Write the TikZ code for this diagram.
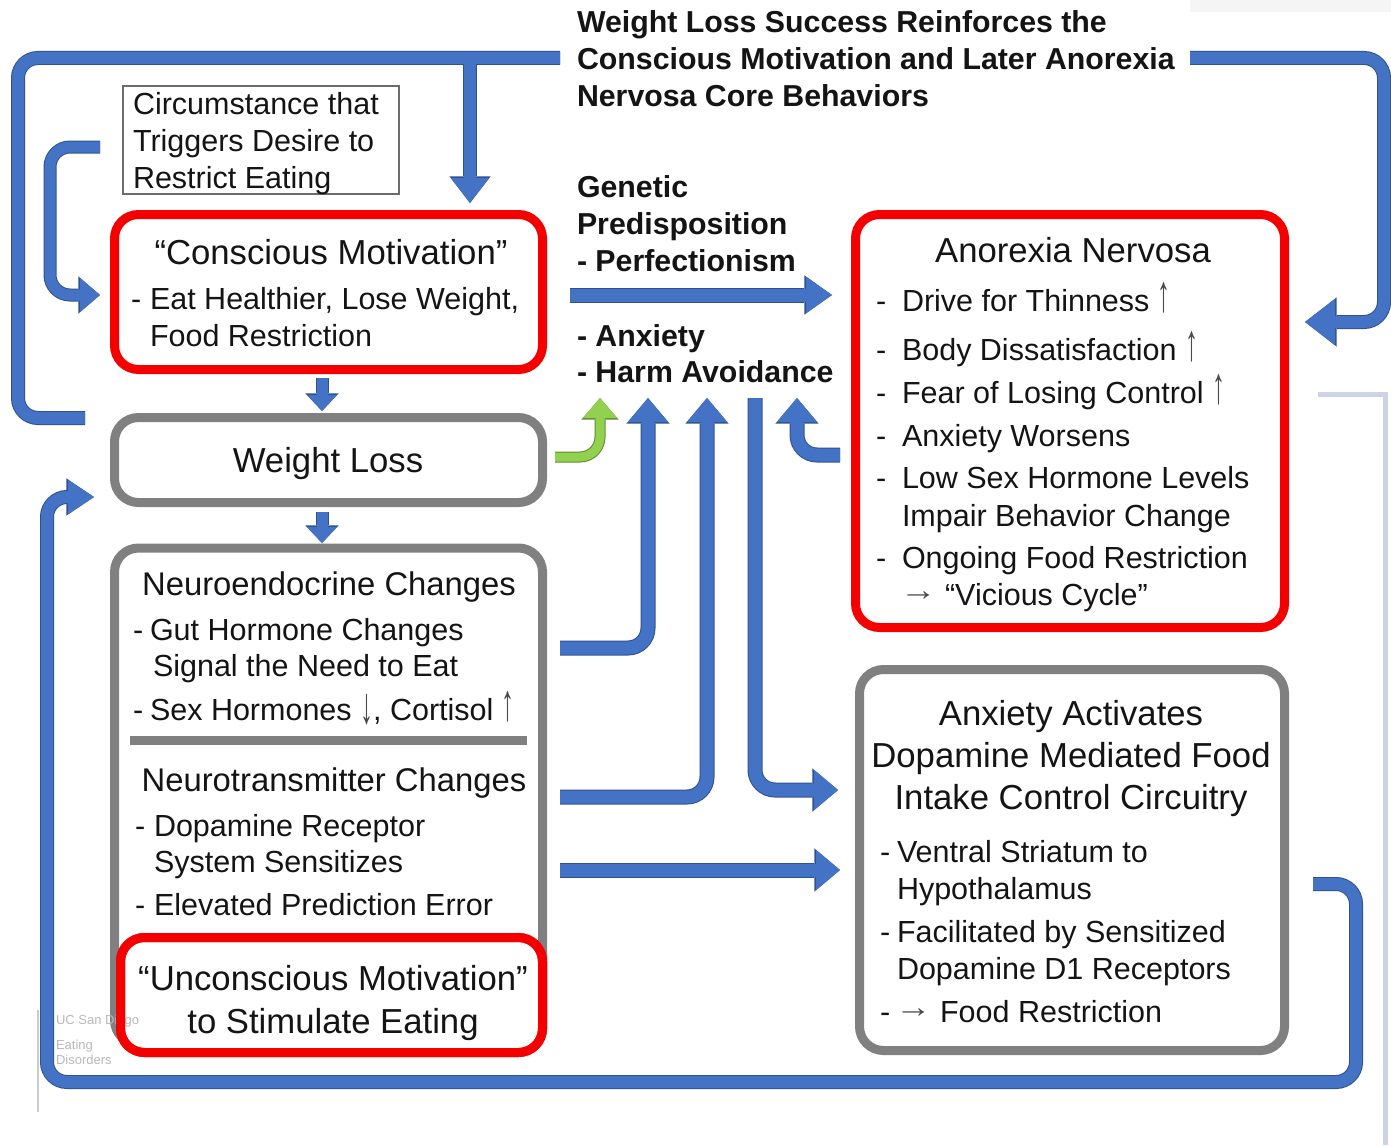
\documentclass[tikz,border=0pt]{standalone}
\usepackage{fontspec}
\usepackage{graphicx}
\setmainfont{Liberation Sans}
\usetikzlibrary{arrows.meta}
\definecolor{bFill}{HTML}{4472C4}
\definecolor{bOut}{HTML}{2F528F}
\definecolor{gFill}{HTML}{92D050}
\definecolor{gOut}{HTML}{5E8C2E}
\definecolor{rBox}{HTML}{F50000}
\definecolor{gBox}{HTML}{808080}
\definecolor{txt}{HTML}{141414}
\definecolor{arrC}{HTML}{4A4A4A}
\definecolor{frameC}{HTML}{CDD3E4}
\newcommand\fBody{\fontsize{15.25}{18.5}\selectfont}
\newcommand\fHead{\fontsize{17.35}{21}\selectfont}
\newcommand\fHeadS{\fontsize{16.4}{21}\selectfont}
\newcommand\fBold{\fontsize{15.15}{18.5}\selectfont\bfseries}
\newcommand\fLogo{\fontsize{6.5}{8}\selectfont}
\newcommand\uA{{\color{arrC}\scalebox{0.85}[1.7]{↑}}}
\newcommand\dA{{\color{arrC}\raisebox{-0.12em}{\scalebox{0.85}[1.7]{↓}}}}
\newcommand\rA{{\color{arrC}\raisebox{0.14em}{\scalebox{1.2}[1]{→}}}}
% #1 inner colour, #2 outer colour, #3 shaft, #4 shaft outer, #5 head w, #6 head w outer, #7 head l, #8 head l outer, #9 path
\newcommand\blk[9]{%
  \draw[draw=#2,line width=#4,rounded corners=10pt,-{Triangle[width=#6,length=#8,line width=0pt]}] #9;%
  \draw[draw=#1,line width=#3,rounded corners=10pt,-{Triangle[width=#5,length=#7,line width=0pt]}] #9;}
\begin{document}
\begin{tikzpicture}[x=0.5pt,y=-0.5pt,
  every node/.style={inner sep=0pt,outer sep=0pt,text=txt},
  redbox/.style 2 args={draw=rBox,line width=4.5pt,rounded corners=12pt,minimum width=#1,minimum height=#2},
  graybox/.style 2 args={draw=gBox,line width=4.5pt,rounded corners=12pt,minimum width=#1,minimum height=#2},
  lw/.style={anchor=base west},
  lc/.style={anchor=base}]
\useasboundingbox (0,0) rectangle (1391,1145);
\fill[white] (0,0) rectangle (1391,1145);
\fill[gray!8] (1190,0) rectangle (1391,12);
\draw[frameC,line width=2.5pt] (1318,394) -- (1385,394) -- (1385,1145);
\draw[gray!40,line width=0.6pt] (38,1010) -- (38,1112);

% ---------- boxes ----------
\node[draw=gray!85!black,line width=1.1pt,minimum width=138pt,minimum height=54pt] (circ) at (261,140) {};
\node[redbox={214pt}{77.5pt}] (cm) at (328.5,292) {};
\node[graybox={214pt}{42.5pt}] (wl) at (328.5,460) {};
\node[graybox={214pt}{248pt}] (big) at (328.5,796) {};
\coordinate (s0) at (130,740); \coordinate (s1) at (527,740);
\draw[gBox,line width=4.5pt] (s0) -- (s1);
\node[redbox={211pt}{57.5pt},fill=white] (uc) at (331.5,995) {};
\node[redbox={214.5pt}{206.5pt}] (an) at (1070,421) {};
\node[graybox={212.5pt}{190.5pt}] (ax) at (1072,860) {};

% logo
\node[lw,font=\fLogo,text=gray!55] (lg1) at (56,1024) {UC San Diego};
\node[lw,font=\fLogo,text=gray!55] (lg2) at (56,1049) {Eating};
\node[lw,font=\fLogo,text=gray!55] (lg3) at (56,1064) {Disorders};
\node[redbox={211pt}{57.5pt}] (ucb) at (331.5,995) {};

% ---------- texts ----------
\node[lw,font=\fBold] (t1) at (577,33) {Weight Loss Success Reinforces the};
\node[lw,font=\fBold] (t2) at (577,70) {Conscious Motivation and Later Anorexia};
\node[lw,font=\fBold] (t3) at (577,107) {Nervosa Core Behaviors};
\node[lw,font=\fBold] (g1t) at (577,197) {Genetic};
\node[lw,font=\fBold] (g2t) at (577,234) {Predisposition};
\node[lw,font=\fBold] (g3t) at (577,271) {- Perfectionism};
\node[lw,font=\fBold] (g4t) at (577,346) {- Anxiety};
\node[lw,font=\fBold] (g5t) at (577,382) {- Harm Avoidance};

\node[lw,font=\fBody] (c1) at (133,114) {Circumstance that};
\node[lw,font=\fBody] (c2) at (133,151) {Triggers Desire to};
\node[lw,font=\fBody] (c3) at (133,188) {Restrict Eating};

\node[lc,font=\fHead] (cmh) at (331,264.4) {“Conscious Motivation”};
\node[lw,font=\fBody] (cmd) at (131,309) {-};
\node[lw,font=\fBody] (cm1) at (150,309) {Eat Healthier, Lose Weight,};
\node[lw,font=\fBody] (cm2) at (150,346) {Food Restriction};

\node[lc,font=\fHead] (wlt) at (328,472.4) {Weight Loss};

\node[lc,font=\fHeadS] (neh) at (329,595.8) {Neuroendocrine Changes};
\node[lw,font=\fBody] (ned1) at (133,640) {-};
\node[lw,font=\fBody] (ne1) at (150,640) {Gut Hormone Changes};
\node[lw,font=\fBody] (ne2) at (153,676) {Signal the Need to Eat};
\node[lw,font=\fBody] (ned2) at (133,720) {-};
\node[lw,font=\fBody] (ne3) at (150,720) {Sex Hormones \dA, Cortisol \uA};

\node[lc,font=\fHeadS] (nth) at (334,791.8) {Neurotransmitter Changes};
\node[lw,font=\fBody] (ntd1) at (135,836) {-};
\node[lw,font=\fBody] (nt1) at (154,836) {Dopamine Receptor};
\node[lw,font=\fBody] (nt2) at (154,872) {System Sensitizes};
\node[lw,font=\fBody] (ntd2) at (135,915) {-};
\node[lw,font=\fBody] (nt3) at (154,915) {Elevated Prediction Error};

\node[lc,font=\fHead] (uc1) at (333,990.4) {“Unconscious Motivation”};
\node[lc,font=\fHead] (uc2) at (333,1033.4) {to Stimulate Eating};

\node[lc,font=\fHead] (anh) at (1073,262.4) {Anorexia Nervosa};
\node[lw,font=\fBody] (and1) at (876,311) {-};
\node[lw,font=\fBody] (an1) at (902,311) {Drive for Thinness \uA};
\node[lw,font=\fBody] (and2) at (876,360) {-};
\node[lw,font=\fBody] (an2) at (902,360) {Body Dissatisfaction \uA};
\node[lw,font=\fBody] (and3) at (876,403) {-};
\node[lw,font=\fBody] (an3) at (902,403) {Fear of Losing Control \uA};
\node[lw,font=\fBody] (and4) at (876,446) {-};
\node[lw,font=\fBody] (an4) at (902,446) {Anxiety Worsens};
\node[lw,font=\fBody] (and5) at (876,488) {-};
\node[lw,font=\fBody] (an5) at (902,488) {Low Sex Hormone Levels};
\node[lw,font=\fBody] (an6) at (902,526) {Impair Behavior Change};
\node[lw,font=\fBody] (and7) at (876,568) {-};
\node[lw,font=\fBody] (an7) at (902,568) {Ongoing Food Restriction};
\node[lw,font=\fBody] (an8) at (900,605) {\rA{} “Vicious Cycle”};

\node[lc,font=\fHead] (axh1) at (1071,725.4) {Anxiety Activates};
\node[lc,font=\fHead] (axh2) at (1071,767.4) {Dopamine Mediated Food};
\node[lc,font=\fHead] (axh3) at (1071,809.4) {Intake Control Circuitry};
\node[lw,font=\fBody] (axd1) at (880,862) {-};
\node[lw,font=\fBody] (ax1) at (897,862) {Ventral Striatum to};
\node[lw,font=\fBody] (ax2) at (897,899) {Hypothalamus};
\node[lw,font=\fBody] (axd2) at (880,942) {-};
\node[lw,font=\fBody] (ax3) at (897,942) {Facilitated by Sensitized};
\node[lw,font=\fBody] (ax4) at (897,979) {Dopamine D1 Receptors};
\node[lw,font=\fBody] (axd3) at (880,1022) {-};
\node[lw,font=\fBody] (ax5) at (895,1022) {\rA{} Food Restriction};

% ---------- arrow coordinates ----------
\coordinate (tl0) at (85,418); \coordinate (tl1) at (18,418);
\coordinate (tl2) at (18,58);  \coordinate (tl3) at (560,58);
\coordinate (br0) at (470,58); \coordinate (br1) at (470,203);
\coordinate (tr0) at (1190,58); \coordinate (tr1) at (1384,58);
\coordinate (tr2) at (1384,322); \coordinate (tr3) at (1305,322);
\coordinate (ls0) at (100,147); \coordinate (ls1) at (50,147);
\coordinate (ls2) at (50,295); \coordinate (ls3) at (100,295);
\coordinate (d1a) at (322,378); \coordinate (d1b) at (322,411);
\coordinate (d2a) at (322,512); \coordinate (d2b) at (322,543);
\coordinate (ge0) at (570,295); \coordinate (ge1) at (832,295);
\coordinate (q0) at (555,457); \coordinate (q1) at (600,457); \coordinate (q2) at (600,398);
\coordinate (a0) at (560,648); \coordinate (a1) at (648,648); \coordinate (a2) at (648,398);
\coordinate (b0) at (560,797); \coordinate (b1) at (707,797); \coordinate (b2) at (707,398);
\coordinate (c0) at (755,398); \coordinate (c1) at (755,790); \coordinate (c2) at (838,790);
\coordinate (e0) at (840,455); \coordinate (e1) at (797,455); \coordinate (e2) at (797,398);
\coordinate (f0) at (560,870); \coordinate (f1) at (840,870);
\coordinate (l0) at (1313,884); \coordinate (l1) at (1356,884); \coordinate (l2) at (1356,1082);
\coordinate (l3) at (47,1082); \coordinate (l4) at (47,497); \coordinate (l5) at (94,497);

% ---------- arrows ----------
% top loop: outlines first
\draw[bOut,line width=7pt,rounded corners=10pt] (tl0) -- (tl1) -- (tl2) -- (tl3);
\draw[bOut,line width=7pt,-{Triangle[width=20.6pt,length=13.3pt,line width=0pt]}] (br0) -- (br1);
\draw[bOut,line width=7pt,rounded corners=10pt,-{Triangle[width=24.6pt,length=15.8pt,line width=0pt]}] (tr0) -- (tr1) -- (tr2) -- (tr3);
\draw[bFill,line width=6pt,rounded corners=10pt] (tl0) -- (tl1) -- (tl2) -- (tl3);
\draw[bFill,line width=6pt,-{Triangle[width=19pt,length=12.5pt,line width=0pt]}] (br0) -- (br1);
\draw[bFill,line width=6pt,rounded corners=10pt,-{Triangle[width=23pt,length=15pt,line width=0pt]}] (tr0) -- (tr1) -- (tr2) -- (tr3);

\blk{bFill}{bOut}{5.5pt}{6.5pt}{17pt}{18.6pt}{10pt}{10.8pt}{(ls0) -- (ls1) -- (ls2) -- (ls3)}
\blk{bFill}{bOut}{5.5pt}{6.5pt}{15pt}{16.6pt}{8pt}{8.8pt}{(d1a) -- (d1b)}
\blk{bFill}{bOut}{5.5pt}{6.5pt}{15pt}{16.6pt}{8pt}{8.8pt}{(d2a) -- (d2b)}
\blk{bFill}{bOut}{6.5pt}{7.5pt}{18pt}{19.6pt}{13pt}{13.8pt}{(ge0) -- (ge1)}
\blk{gFill}{gOut}{4.5pt}{5.5pt}{17pt}{18.6pt}{10pt}{10.8pt}{(q0) -- (q1) -- (q2)}
\blk{bFill}{bOut}{6.5pt}{7.5pt}{20pt}{21.6pt}{12pt}{12.8pt}{(a0) -- (a1) -- (a2)}
\blk{bFill}{bOut}{6.5pt}{7.5pt}{20pt}{21.6pt}{12pt}{12.8pt}{(b0) -- (b1) -- (b2)}
\blk{bFill}{bOut}{6.5pt}{7.5pt}{20pt}{21.6pt}{12pt}{12.8pt}{(c0) -- (c1) -- (c2)}
\blk{bFill}{bOut}{6.5pt}{7.5pt}{20pt}{21.6pt}{12pt}{12.8pt}{(e0) -- (e1) -- (e2)}
\blk{bFill}{bOut}{6.5pt}{7.5pt}{20pt}{21.6pt}{12pt}{12.8pt}{(f0) -- (f1)}
\blk{bFill}{bOut}{6pt}{7pt}{17pt}{18.6pt}{13pt}{13.8pt}{(l0) -- (l1) -- (l2) -- (l3) -- (l4) -- (l5)}
\end{tikzpicture}
\end{document}
